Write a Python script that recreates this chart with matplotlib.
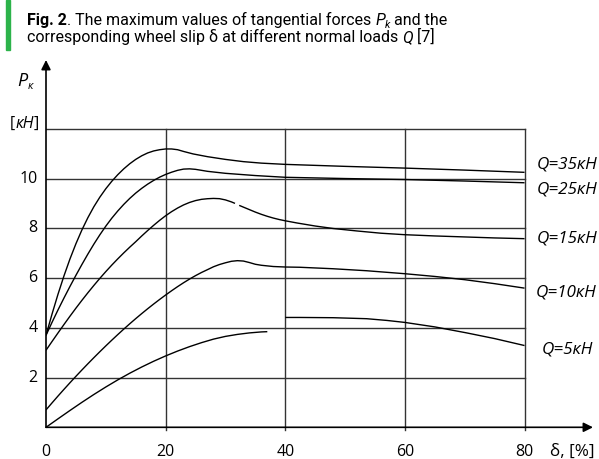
import matplotlib
matplotlib.use("Agg")
import matplotlib.pyplot as plt
from matplotlib.transforms import IdentityTransform

# ---- data: tangential force P_k [kN] versus wheel slip delta [%] ----
q35_slip = [0, 1, 2, 3, 4, 5, 6, 7, 8, 9, 10, 11, 12, 13, 14, 15, 16, 17, 18, 19,
            20, 21, 22, 23, 24.6, 27, 30, 33, 36, 40, 50, 60, 70, 80]
q35_force = [3.7, 4.55, 5.35, 6.09, 6.77, 7.385, 7.94, 8.435, 8.875, 9.26, 9.6,
             9.9, 10.165, 10.4, 10.605, 10.78, 10.925, 11.04, 11.12, 11.17, 11.2,
             11.2, 11.17, 11.1, 11.0, 10.89, 10.78, 10.69, 10.63, 10.58, 10.5,
             10.43, 10.35, 10.26]

q25_slip = [0, 1, 2, 3, 4, 5, 6, 7, 8, 9, 10, 11, 12, 13, 14, 15, 16, 17, 18, 19,
            20, 21, 22, 23, 24, 25, 27, 30, 35, 40, 50, 60, 70, 80]
q25_force = [3.7, 4.22, 4.72, 5.2, 5.665, 6.115, 6.55, 6.97, 7.37, 7.745, 8.095,
             8.415, 8.705, 8.97, 9.21, 9.425, 9.615, 9.785, 9.935, 10.065, 10.175,
             10.265, 10.34, 10.39, 10.4, 10.38, 10.3, 10.22, 10.13, 10.06, 10.01,
             9.97, 9.91, 9.84]

q15a_slip = [0, 1, 2, 3, 4, 5, 6, 7, 8, 9, 10, 11, 12, 13, 14, 15, 16, 17, 18, 19,
             20, 21, 22, 23, 24, 25, 26, 27, 28, 29, 30, 31, 31.6]
q15a_force = [3.1, 3.45, 3.795, 4.135, 4.468, 4.793, 5.108, 5.413, 5.708, 5.993,
              6.266, 6.528, 6.778, 7.018, 7.248, 7.468, 7.698, 7.918, 8.128, 8.328,
              8.513, 8.678, 8.823, 8.948, 9.048, 9.123, 9.173, 9.198, 9.21, 9.2,
              9.15, 9.07, 9.01]
q15b_slip = [32.3, 33, 34, 35, 36, 37, 38, 39, 40, 42, 45, 48, 52, 56, 60, 65, 70,
             75, 80]
q15b_force = [8.93, 8.86, 8.76, 8.66, 8.57, 8.49, 8.42, 8.36, 8.31, 8.22, 8.1, 8.0,
              7.9, 7.81, 7.75, 7.7, 7.66, 7.62, 7.59]

q10_slip = [0, 1, 2, 3, 4, 5, 6, 7, 8, 9, 10, 11, 12, 13, 14, 15, 16, 17, 18, 19,
            20, 21, 22, 23, 24, 25, 26, 27, 28, 29, 30, 31, 32, 33, 34, 35, 36, 38,
            40, 42.4, 48, 53.6, 60, 65, 70, 75, 80]
q10_force = [0.7, 0.98, 1.256, 1.526, 1.791, 2.051, 2.306, 2.556, 2.801, 3.041,
             3.276, 3.506, 3.731, 3.951, 4.165, 4.373, 4.575, 4.771, 4.961, 5.145,
             5.323, 5.495, 5.66, 5.817, 5.965, 6.103, 6.23, 6.344, 6.46, 6.55, 6.62,
             6.68, 6.705, 6.69, 6.63, 6.56, 6.52, 6.47, 6.45, 6.44, 6.38, 6.3, 6.18,
             6.07, 5.94, 5.78, 5.6]

q5a_slip = [0, 2, 4, 6, 8, 10, 12, 14, 16, 18, 20, 22, 24, 26, 28, 30, 32, 34, 36, 37]
q5a_force = [0, 0.34, 0.676, 1.004, 1.32, 1.622, 1.908, 2.176, 2.426, 2.658, 2.872,
             3.068, 3.246, 3.406, 3.548, 3.658, 3.738, 3.798, 3.838, 3.848]
q5b_slip = [40, 42.4, 48, 53.6, 57, 60, 65, 70.3, 75, 80]
q5b_force = [4.42, 4.42, 4.41, 4.37, 4.3, 4.22, 4.04, 3.8, 3.57, 3.29]

curve_labels = ["Q=35кН", "Q=25кН", "Q=15кН", "Q=10кН", "Q=5кН"]
x_ticks = [0, 20, 40, 60, 80]
y_ticks = [2, 4, 6, 8, 10]

W, H = 599, 459
fig = plt.figure(figsize=(W / 100, H / 100), dpi=100)
fig.patch.set_facecolor("white")

# axes: delta 0..80 spans x-pixels 46..524.5, P 0..12 spans y-pixels 427.3..129
x_max, y_max = 91.45, 14.78
ax = fig.add_axes([46 / W, (H - 427.3) / H, (593 - 46) / W, (427.3 - 60) / H])
ax.set_xlim(0, x_max)
ax.set_ylim(0, y_max)
ax.axis("off")

UI = ["Open Sans", "DejaVu Sans"]
grid_kw = dict(color="#333333", lw=1.0, zorder=1)
for yv in y_ticks + [12]:
    ax.plot([0, 80], [yv, yv], **grid_kw)
for xv in [20, 40, 60, 80]:
    ax.plot([xv, xv], [-0.12, 12], clip_on=False, **grid_kw)

# axes with arrows
arrow = dict(arrowstyle="-|>", color="black", lw=1.2, mutation_scale=14,
             shrinkA=0, shrinkB=0)
ax.annotate("", xy=(x_max, 0), xytext=(0, 0), arrowprops=arrow,
            annotation_clip=False)
ax.annotate("", xy=(0, y_max), xytext=(0, 0), arrowprops=arrow,
            annotation_clip=False)

curve_kw = dict(color="black", lw=1.0, zorder=3, solid_capstyle="butt",
                solid_joinstyle="round")
ax.plot(q35_slip, q35_force, **curve_kw)
ax.plot(q25_slip, q25_force, **curve_kw)
ax.plot(q15a_slip, q15a_force, **curve_kw)
ax.plot(q15b_slip, q15b_force, **curve_kw)
ax.plot(q10_slip, q10_force, **curve_kw)
ax.plot(q5a_slip, q5a_force, **curve_kw)
ax.plot(q5b_slip, q5b_force, **curve_kw)

# tick labels
for xv in x_ticks:
    ax.text(xv, -0.99, str(xv), ha="center", va="center", fontsize=11.5,
            family=UI, clip_on=False)
for yv in y_ticks:
    ax.text(-1.45, yv, str(yv), ha="right", va="center", fontsize=11.5,
            family=UI, clip_on=False)
ax.text(88.0, -0.99, "δ, [%]", ha="center", va="center", fontsize=12.3,
        family=UI, clip_on=False)

# curve labels on the right
label_pos = [(82.05, 10.58), (82.05, 9.57), (82.05, 7.60), (81.9, 5.43), (82.9, 3.15)]
for lab, (lx, ly) in zip(curve_labels, label_pos):
    ax.text(lx, ly, lab, ha="left", va="center", fontsize=12.3, family=UI,
            style="italic", clip_on=False)

# ---- text runs placed piece by piece in pixel coordinates ----
fig.canvas.draw()
renderer = fig.canvas.get_renderer()


def advance(s, **kw):
    a = fig.text(0, 0, "|" + s + "|", **kw)
    b = fig.text(0, 0, "||", **kw)
    w = a.get_window_extent(renderer).width - b.get_window_extent(renderer).width
    a.remove()
    b.remove()
    return w


def run(x, y, pieces):
    for s, kw in pieces:
        kw = dict(kw)
        dy = kw.pop("dy", 0)
        fig.text(x, H - (y + dy), s, transform=IdentityTransform(),
                 ha="left", va="baseline", **kw)
        x += advance(s, **kw)


TF = ["Roboto", "DejaVu Sans"]
ts = 11.5
reg = dict(family=TF, fontsize=ts)
bold = dict(family=TF, fontsize=ts, weight="bold")
ital = dict(family=TF, fontsize=ts, style="italic")
sub = dict(family=TF, fontsize=ts * 0.68, style="italic", dy=2.5)

run(27, 25, [("Fig. 2", bold),
             (". The maximum values of tangential forces ", reg),
             ("P", ital), ("k", sub), (" and the", reg)])
run(27, 41.7, [("corresponding wheel slip δ at different normal loads ", reg),
               ("Q", ital), (" [7]", reg)])

# y-axis caption
run(17, 86.5, [("P", dict(family=UI, fontsize=13, style="italic")),
               ("к", dict(family=UI, fontsize=8, style="italic", dy=2.5))])
run(10, 127.7, [("[", dict(family=UI, fontsize=11.5)),
                ("кН", dict(family=UI, fontsize=11.5, style="italic")),
                ("]", dict(family=UI, fontsize=11.5))])

# green accent bar beside the caption
fig.patches.append(plt.Rectangle((6 / W, 1 - 50 / H), 4 / W, 50 / H,
                                 transform=fig.transFigure, color="#2cb34a",
                                 zorder=5))

fig.savefig("out.png", dpi=100)
